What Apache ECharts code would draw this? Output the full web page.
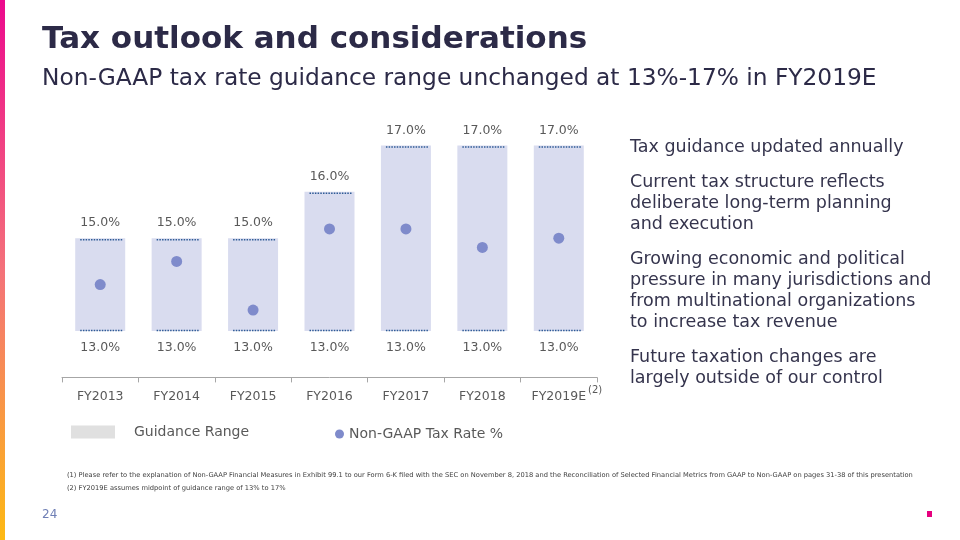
<!DOCTYPE html>
<html><head><meta charset="utf-8">
<script src="https://cdn.jsdelivr.net/npm/echarts@6/dist/echarts.min.js"></script>
<style>html,body{margin:0;padding:0;background:#fff}#c{width:960px;height:540px}</style>
</head><body><div id="c"></div>
<script>
const categories = ['FY2013','FY2014','FY2015','FY2016','FY2017','FY2018','FY2019E'];
const guidanceLow = [13, 13, 13, 13, 13, 13, 13];
const guidanceHigh = [15, 15, 15, 16, 17, 17, 17];
const taxRate = [14.0, 14.5, 13.45, 15.2, 15.2, 14.8, 15.0];
const seriesNames = ['Guidance Range', 'Non-GAAP Tax Rate %'];
const bullets = [
  ['Tax guidance updated annually'],
  ['Current tax structure reflects', 'deliberate long-term planning', 'and execution'],
  ['Growing economic and political', 'pressure in many jurisdictions and', 'from multinational organizations', 'to increase tax revenue'],
  ['Future taxation changes are', 'largely outside of our control']
];
const titleText = 'Tax outlook and considerations';
const subtitleText = 'Non-GAAP tax rate guidance range unchanged at 13%-17% in FY2019E';
const footnotes = [
  '(1) Please refer to the explanation of Non-GAAP Financial Measures in Exhibit 99.1 to our Form 6-K filed with the SEC on November 8, 2018 and the Reconciliation of Selected Financial Metrics from GAAP to Non-GAAP on pages 31-38 of this presentation',
  '(2) FY2019E assumes midpoint of guidance range of 13% to 17%'
];
const pageNumber = '24';

const FONT = 'DejaVu Sans';
const rangeData = categories.map((c, i) => [i, guidanceLow[i], guidanceHigh[i]]);

const graphics = [];
graphics.push({type:'rect', left:0, top:0, shape:{width:5, height:540}, style:{fill:new echarts.graphic.LinearGradient(0,0,0,1,[{offset:0,color:'#ec098d'},{offset:0.5,color:'#f4727a'},{offset:1,color:'#fdb913'}])}});
graphics.push({type:'text', left:42, top:24, style:{text:titleText, fill:'#2c2a47', font:'bold 31px "' + FONT + '"'}});
graphics.push({type:'text', left:42, top:67, style:{text:subtitleText, fill:'#2c2a47', font:'23.3px "' + FONT + '"'}});
let y = 138.5;
bullets.forEach(p => {
  p.forEach(line => {
    graphics.push({type:'text', left:630, top:y, style:{text:line, fill:'#35344d', font:'17.5px "' + FONT + '"'}});
    y += 21;
  });
  y += 14;
});
graphics.push({type:'text', left:588, top:385, style:{text:'(2)', fill:'#595959', font:'10px "' + FONT + '"'}});
graphics.push({type:'text', left:67, top:472, style:{text:footnotes[0], fill:'#404040', font:'6.7px "' + FONT + '"'}});
graphics.push({type:'text', left:67, top:485, style:{text:footnotes[1], fill:'#404040', font:'6.7px "' + FONT + '"'}});
graphics.push({type:'text', left:42, top:509, style:{text:pageNumber, fill:'#6f7fb5', font:'12px "' + FONT + '"'}});
graphics.push({type:'rect', left:927, top:511, shape:{width:5, height:6}, style:{fill:'#e6007e'}});

const chart = echarts.init(document.getElementById('c'));
chart.setOption({
  animation: false,
  grid: {left: 62, width: 535, top: 52.6, bottom: 162.6},
  legend: [
    {data:[{name:seriesNames[0], icon:'rect', itemStyle:{color:'#e0e0e0'}}], left:66, top:420, itemWidth:44, itemHeight:13,
     textStyle:{color:'#595959', fontSize:14, fontFamily:FONT, padding:[2,0,0,14]}, selectedMode:false},
    {data:[{name:seriesNames[1], icon:'circle'}], left:330, top:422, itemWidth:9, itemHeight:9,
     textStyle:{color:'#595959', fontSize:14, fontFamily:FONT}, selectedMode:false}
  ],
  xAxis: {type:'category', data:categories,
    axisLine:{lineStyle:{color:'#a6a6a6'}}, axisTick:{show:true, length:5, lineStyle:{color:'#a6a6a6'}},
    axisLabel:{color:'#595959', fontSize:12.5, fontFamily:FONT, margin:13}},
  yAxis: {type:'value', min:12, max:19, show:false},
  series: [
    {name:seriesNames[0], type:'custom', data:rangeData, encode:{x:0, y:[1,2]}, itemStyle:{color:'#d9dcef'},
     renderItem(params, api){
       const x = api.value(0), lo = api.value(1), hi = api.value(2);
       const pLo = api.coord([x, lo]), pHi = api.coord([x, hi]);
       const w = 50;
       return {type:'group', children:[
         {type:'rect', shape:{x:pLo[0]-w/2, y:pHi[1], width:w, height:pLo[1]-pHi[1]}, style:{fill:'#d9dcef'}},
         {type:'line', shape:{x1:pHi[0]-20, y1:pHi[1]+1.5, x2:pHi[0]+22, y2:pHi[1]+1.5}, style:{stroke:'#2f5b96', lineWidth:1.5, lineDash:[1.5,1.2]}},
         {type:'line', shape:{x1:pLo[0]-20, y1:pLo[1]-0.5, x2:pLo[0]+22, y2:pLo[1]-0.5}, style:{stroke:'#2f5b96', lineWidth:1.5, lineDash:[1.5,1.2]}},
         {type:'text', style:{text:hi.toFixed(1)+'%', x:pHi[0], y:pHi[1]-15, align:'center', verticalAlign:'middle', fill:'#595959', font:'12.5px "' + FONT + '"'}},
         {type:'text', style:{text:lo.toFixed(1)+'%', x:pLo[0], y:pLo[1]+17, align:'center', verticalAlign:'middle', fill:'#595959', font:'12.5px "' + FONT + '"'}}
       ]};
     }},
    {name:seriesNames[1], type:'scatter', data:taxRate, symbolSize:11, itemStyle:{color:'#7f8bcb', opacity:1}}
  ],
  graphic: graphics
});
</script></body></html>
